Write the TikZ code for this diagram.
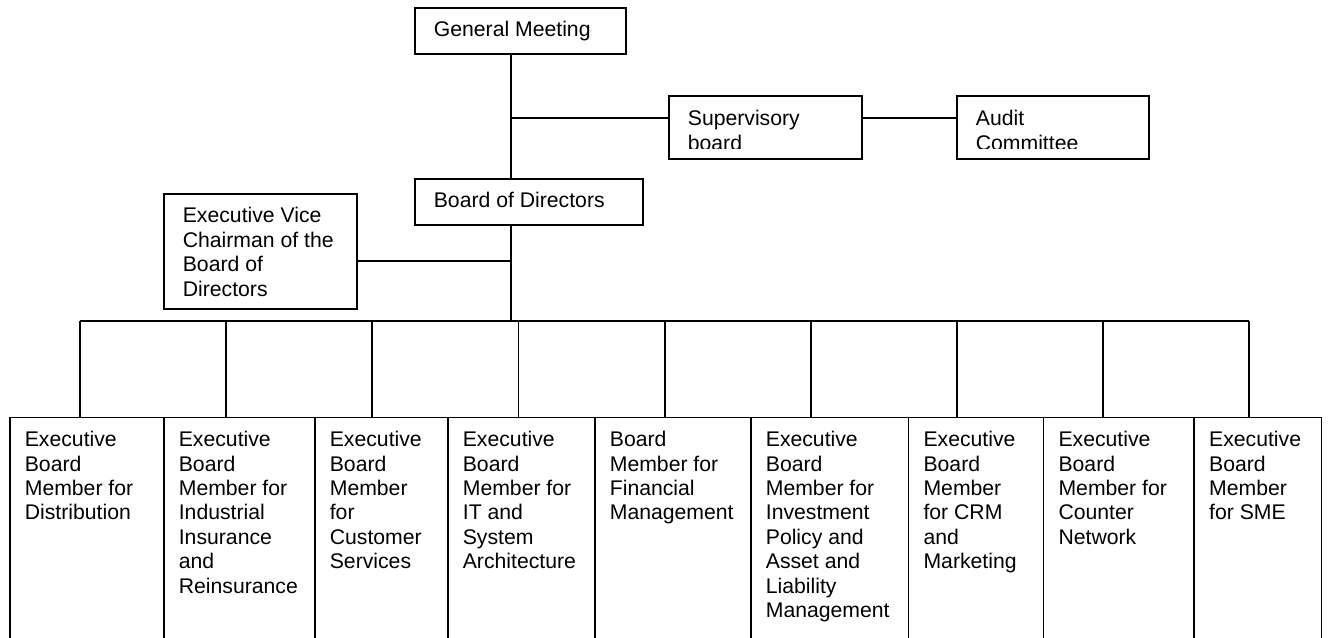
\documentclass[tikz,border=0pt]{standalone}
\usepackage{fontspec}
\setmainfont{Liberation Sans}
\usetikzlibrary{calc}
\tikzset{
  cell/.style = {draw, rectangle, anchor=north west, inner sep=0pt},
  lbl/.style = {anchor=north west, align=left, inner xsep=15pt, inner ysep=13.7pt,
    font=\fontsize{21.2}{24.4}\selectfont},
  toplbl/.style = {lbl, inner xsep=19pt}
}

\begin{document}
\begin{tikzpicture}[x=1pt, y=-1pt, line width=1.7pt]
\useasboundingbox (0,0) rectangle (1329,637);
\clip (0,0) rectangle (1329,637);
% upper boxes
\node[cell, minimum width=211pt, minimum height=46pt] (gm) at (414,7) {};
\node[toplbl] (gmt) at (gm.north west) {General Meeting};
\node[cell, minimum width=228pt, minimum height=46pt] (bod) at (414,178) {};
\node[toplbl] (bodt) at (bod.north west) {Board of Directors};
\node[cell, minimum width=193pt, minimum height=63pt] (sup) at (668,95) {};
\node[cell, minimum width=192pt, minimum height=63pt] (aud) at (956,95) {};
\begin{scope}
\clip (sup.north west) rectangle ([yshift=11pt]aud.south east);
\node[toplbl, inner ysep=14.5pt] (supt) at (sup.north west) {Supervisory\\board};
\node[toplbl, inner ysep=14.5pt] (audt) at (aud.north west) {Audit\\Committee};
\end{scope}
\node[cell, minimum width=193pt, minimum height=115pt] (evc) at (163,193) {};
\node[toplbl] (evct) at (evc.north west) {Executive Vice\\Chairman of the\\Board of\\Directors};
% lower boxes
\node[cell, minimum width=154pt, minimum height=260pt] (d1) at (9,416.7) {};
\node[cell, minimum width=151pt, minimum height=260pt] (d2) at (163,416.7) {};
\node[cell, minimum width=133pt, minimum height=260pt] (d3) at (314,416.7) {};
\node[cell, minimum width=147pt, minimum height=260pt] (d4) at (447,416.7) {};
\node[cell, minimum width=156pt, minimum height=260pt] (d5) at (594,416.7) {};
\node[cell, minimum width=157.7pt, minimum height=260pt] (d6) at (750,416.7) {};
\node[cell, minimum width=135pt, minimum height=260pt] (d7) at (907.7,416.7) {};
\node[cell, minimum width=150.6pt, minimum height=260pt] (d8) at (1042.7,416.7) {};
\node[cell, minimum width=127.4pt, minimum height=260pt] (d9) at (1193.3,416.7) {};
\node[lbl] (d1t) at (d1.north west) {Executive\\Board\\Member for\\Distribution};
\node[lbl] (d2t) at (d2.north west) {Executive\\Board\\Member for\\Industrial\\Insurance\\and\\Reinsurance};
\node[lbl] (d3t) at (d3.north west) {Executive\\Board\\Member\\for\\Customer\\Services};
\node[lbl] (d4t) at (d4.north west) {Executive\\Board\\Member for\\IT and\\System\\Architecture};
\node[lbl] (d5t) at (d5.north west) {Board\\Member for\\Financial\\Management};
\node[lbl] (d6t) at (d6.north west) {Executive\\Board\\Member for\\Investment\\Policy and\\Asset and\\Liability\\Management};
\node[lbl] (d7t) at (d7.north west) {Executive\\Board\\Member\\for CRM\\and\\Marketing};
\node[lbl] (d8t) at (d8.north west) {Executive\\Board\\Member for\\Counter\\Network};
\node[lbl] (d9t) at (d9.north west) {Executive\\Board\\Member\\for SME};
% connectors
\coordinate (j1) at (511,118.3);
\coordinate (j2) at (511,261);
\coordinate (bus) at (511,320.7);
\draw (gm.south -| j1) -- (bod.north -| j1);
\draw (j1) -- (j1 -| sup.west);
\draw (sup.east |- j1) -- (aud.west |- j1);
\draw (bod.south -| j1) -- (bus);
\draw (evc.east |- j2) -- (j2);
\foreach \i in {1,...,9} {
  \coordinate (t\i) at ({80+(\i-1)*146.16},320.7);
  \draw (t\i) -- (t\i |- d\i.north);
}
\draw (t1) -- (t9);
\end{tikzpicture}
\end{document}
